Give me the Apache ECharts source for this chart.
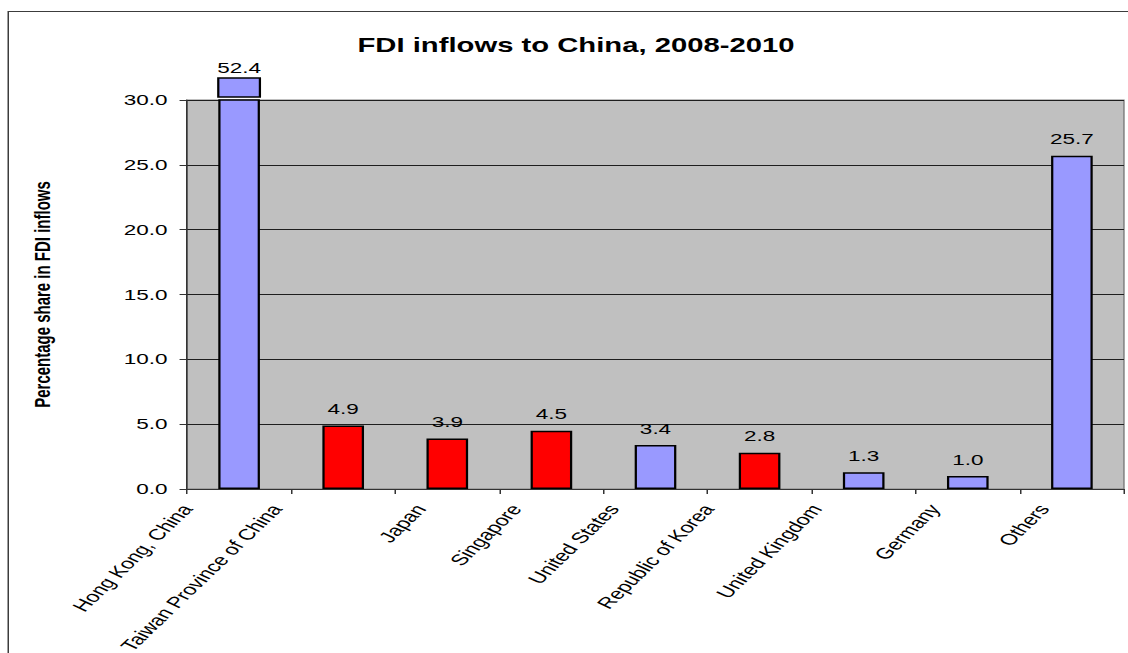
<!DOCTYPE html>
<html>
<head>
<meta charset="utf-8">
<title>FDI inflows to China, 2008-2010</title>
<script src="https://cdn.jsdelivr.net/npm/echarts@6/dist/echarts.min.js"></script>
<style>
  html, body { margin: 0; padding: 0; background: #fff; overflow: hidden; }
  #stage {
    position: absolute; left: 0; top: 0;
    width: 752px; height: 653px;
    transform: scaleX(1.5); transform-origin: 0 0;
  }
  #frame {
    position: absolute; left: 5px; top: 11px; width: 800px; height: 700px;
    border: 1px solid #3c3c3c; box-sizing: border-box;
  }
  #chart { position: absolute; left: 0; top: 0; width: 752px; height: 653px; }
</style>
</head>
<body>
<div id="stage">
  <div id="frame"></div>
  <div id="chart"></div>
</div>
<script>
// Source economies and their percentage share in FDI inflows, 2008-2010
const categories = [
  'Hong Kong, China', 'Taiwan Province of China', 'Japan', 'Singapore',
  'United States', 'Republic of Korea', 'United Kingdom', 'Germany', 'Others'
];
const shares = [52.4, 4.9, 3.9, 4.5, 3.4, 2.8, 1.3, 1.0, 25.7];
const highlighted = [false, true, true, true, false, true, false, false, false];
const yTicks = [0, 5, 10, 15, 20, 25, 30];

const Y_MAX = yTicks[yTicks.length - 1];
const Y_STEP = yTicks[1] - yTicks[0];
const BLUE = '#9999ff';
const RED = '#ff0000';
const FONT = '"Liberation Sans", Arial, sans-serif';
const BAR_FRACTION = 0.4;
const LABEL_ROT = 55;
const LABEL_SIZE = 15.5;

// Rotated category labels are nudged left in proportion to their length:
// right/bottom padding on a rotated label moves it along and across its baseline
const measureCtx = document.createElement('canvas').getContext('2d');
measureCtx.font = LABEL_SIZE + 'px ' + FONT;
function labelPadding(name) {
  const s = 0.2 * measureCtx.measureText(name).width + 9.5;
  const rad = LABEL_ROT * Math.PI / 180;
  return [0, s * Math.cos(rad), 2 * s * Math.sin(rad), 0];
}
const labelRich = {};
categories.forEach((name, i) => {
  labelRich['c' + i] = {
    padding: labelPadding(name),
    fontFamily: FONT, fontSize: LABEL_SIZE, color: '#000'
  };
});

const barData = shares.map((v, i) => ({
  value: v,
  itemStyle: { color: highlighted[i] ? RED : BLUE },
  label: { show: v <= Y_MAX }
}));

// Values above the axis maximum get a detached cap above the plot
const capData = shares
  .map((v, i) => [i, v])
  .filter(d => d[1] > Y_MAX);

function renderCap(params, api) {
  const idx = api.value(0);
  const val = api.value(1);
  const base = api.coord([idx, Y_MAX]);
  const w = api.size([1, 0])[0] * BAR_FRACTION;
  return {
    type: 'group',
    children: [
      {
        type: 'rect',
        shape: { x: base[0] - w / 2, y: base[1] - 22, width: w, height: 19 },
        style: { fill: highlighted[idx] ? RED : BLUE, stroke: '#000', lineWidth: 1.5 }
      },
      {
        type: 'text',
        x: base[0], y: base[1] - 25,
        style: {
          text: val.toFixed(1), align: 'center', verticalAlign: 'bottom',
          font: '15px ' + FONT, fill: '#000'
        }
      }
    ]
  };
}

const chart = echarts.init(document.getElementById('chart'), null, { renderer: 'svg' });

chart.setOption({
  animation: false,
  backgroundColor: 'transparent',
  title: {
    text: 'FDI inflows to China, 2008-2010',
    left: 384, top: 35, padding: 0, textAlign: 'center',
    textStyle: { fontFamily: FONT, fontSize: 19.5, fontWeight: 'bold', color: '#000' }
  },
  grid: {
    left: 124.7, right: 2.7, top: 100, bottom: 164,
    outerBoundsMode: 'none', containLabel: false,
    show: true, backgroundColor: '#c0c0c0', borderColor: '#808080', borderWidth: 1
  },
  xAxis: {
    type: 'category',
    data: categories,
    axisLine: { lineStyle: { color: '#333', width: 1 } },
    axisTick: { show: true, length: 5, lineStyle: { color: '#333' } },
    axisLabel: {
      interval: 0, rotate: LABEL_ROT, margin: 17,
      fontFamily: FONT, fontSize: LABEL_SIZE, color: '#000',
      formatter: (value, index) => '{c' + index + '|' + value + '}',
      rich: labelRich
    },
    splitLine: { show: false }
  },
  yAxis: {
    type: 'value',
    min: yTicks[0], max: Y_MAX, interval: Y_STEP,
    name: 'Percentage share in FDI inflows',
    nameLocation: 'middle', nameRotate: 90, nameGap: 89,
    nameTextStyle: { fontFamily: FONT, fontSize: 15, fontWeight: 'bold', color: '#000' },
    axisLine: { show: true, lineStyle: { color: '#333', width: 1 } },
    axisTick: { show: true, length: 5, lineStyle: { color: '#333' } },
    axisLabel: {
      margin: 13, fontFamily: FONT, fontSize: 15, color: '#000',
      formatter: v => v.toFixed(1)
    },
    splitLine: { show: true, lineStyle: { color: '#1e1e1e', width: 1 } }
  },
  series: [
    {
      type: 'bar',
      data: barData,
      barWidth: (BAR_FRACTION * 100) + '%',
      itemStyle: { borderColor: '#000', borderWidth: 1.5 },
      label: {
        show: true, position: 'top', distance: 9,
        fontFamily: FONT, fontSize: 15, color: '#000',
        formatter: p => p.value.toFixed(1)
      }
    },
    {
      type: 'custom',
      renderItem: renderCap,
      data: capData,
      encode: { x: 0, y: 1 },
      z: 3
    }
  ]
});
</script>
</body>
</html>
